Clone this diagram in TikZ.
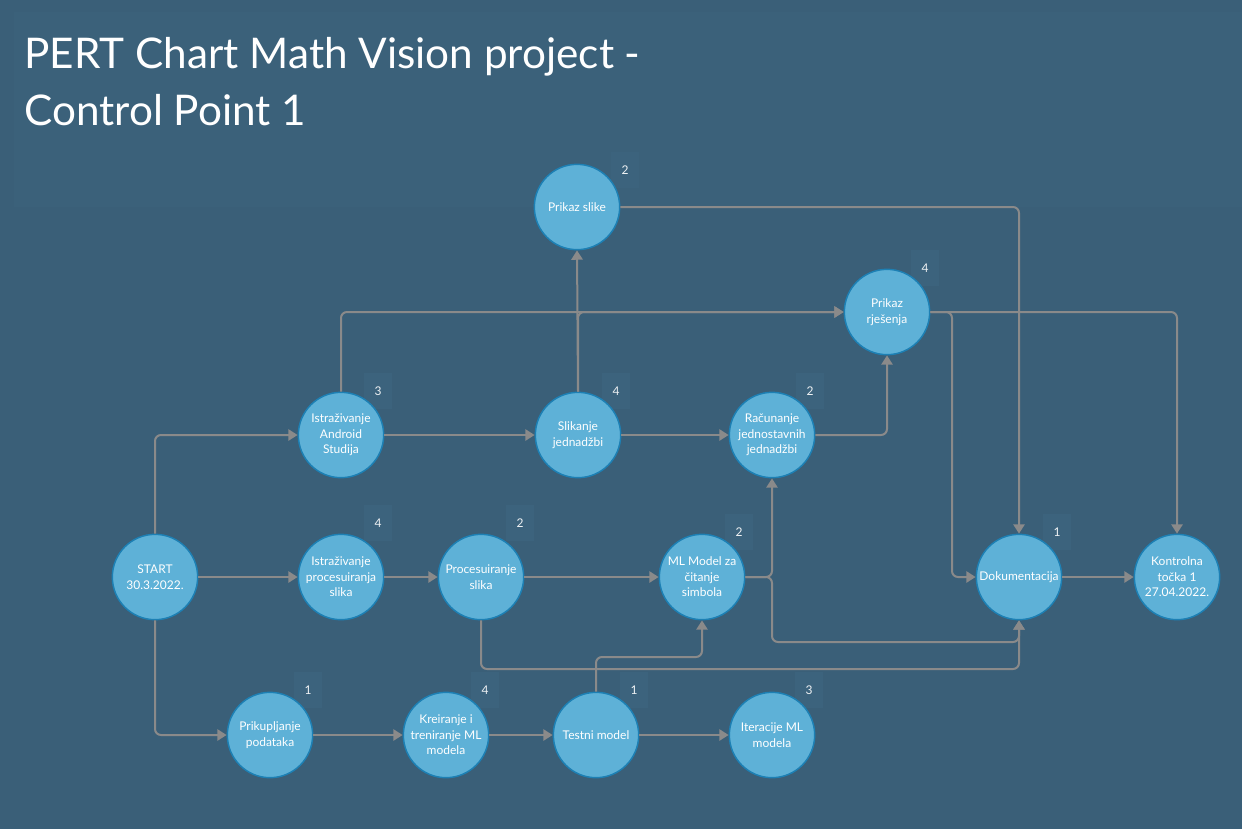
\documentclass[tikz,border=0pt]{standalone}
\usepackage{fontspec}
\setmainfont{Lato}
\usetikzlibrary{arrows.meta,calc}
\definecolor{bg}{HTML}{3A5F78}
\definecolor{panel}{HTML}{3B617A}
\definecolor{nodefill}{HTML}{5EB1D7}
\definecolor{nodeedge}{HTML}{1D80B4}
\definecolor{conn}{HTML}{8A8A8A}
\definecolor{numbox}{HTML}{3C637D}
\begin{document}
\begin{tikzpicture}[x=0.75pt,y=-0.75pt,
  task/.style={circle, fill=nodefill, draw=nodeedge, line width=1.1pt, minimum size=64pt, inner sep=0pt, text=white, align=center, font=\fontsize{9}{11.6}\selectfont},
  num/.style={fill=numbox, minimum width=21pt, minimum height=27pt, inner sep=0pt, text=white!92!bg, font=\fontsize{9}{10}\selectfont},
  arr/.style={draw=conn, line width=1.5pt, rounded corners=4.5pt, -{Triangle[length=7pt,width=8.5pt]}},
  title/.style={anchor=base west, inner sep=0pt, text=white, font=\fontsize{31.7}{38}\selectfont}
]
\useasboundingbox (0,0) rectangle (1242,829);
\fill[bg] (0,0) rectangle (1242,829);
\fill[panel] (14,12) rectangle (1242,207);

\node[title] (t1) at (24,68) {PERT Chart Math Vision project -};
\node[title] (t2) at (24,125) {Control Point 1};

% number boxes
\node[num] (n1) at (625,170) {2};
\node[num] (n2) at (925,268) {4};
\node[num] (n3) at (378,391) {3};
\node[num] (n4) at (616,391) {4};
\node[num] (n5) at (810,391) {2};
\node[num] (n6) at (378,523) {4};
\node[num] (n7) at (520,523) {2};
\node[num] (n8) at (739,532) {2};
\node[num] (n9) at (1057,532) {1};
\node[num] (n10) at (308,690) {1};
\node[num] (n11) at (485,690) {4};
\node[num] (n12) at (634,690) {1};
\node[num] (n13) at (809,690) {3};

% tasks
\node[task] (pslike) at (577,207) {Prikaz slike};
\node[task] (prj) at (887,312) {Prikaz\\rješenja};
\node[task] (android) at (341,435) {Istraživanje\\Android\\Studija};
\node[task] (slik) at (578,435) {Slikanje\\jednadžbi};
\node[task] (rac) at (772,435) {Računanje\\jednostavnih\\jednadžbi};
\node[task] (start) at (155,577) {START\\30.3.2022.};
\node[task] (iproc) at (341,577) {Istraživanje\\procesuiranja\\slika};
\node[task] (proc) at (481,577) {Procesuiranje\\slika};
\node[task] (ml) at (702,577) {ML Model za\\čitanje\\simbola};
\node[task] (dok) at (1019,577) {Dokumentacija};
\node[task] (kon) at (1177,577) {Kontrolna\\točka 1\\27.04.2022.};
\node[task] (prik) at (270,735) {Prikupljanje\\podataka};
\node[task] (krei) at (446,735) {Kreiranje i\\treniranje ML\\modela};
\node[task] (test) at (596,735) {Testni model};
\node[task] (iter) at (772,735) {Iteracije ML\\modela};

% helper levels
\coordinate (mdturn) at (772,642);
\coordinate (pdlevel) at (0,669);
\coordinate (tmlevel) at (0,657);
\coordinate (pdx) at (952,0);

% connectors
\draw[arr] (start.north) |- (android.west);
\draw[arr] (start.east) -- (iproc.west);
\draw[arr] (start.south) |- (prik.west);
\draw[arr] (android.east) -- (slik.west);
\draw[arr] (android.north) |- (prj.west);
\draw[arr] (slik.north) -- (pslike.south);
\draw[arr] (slik.north) |- (prj.west);
\draw[arr] (slik.east) -- (rac.west);
\draw[arr] (rac.east) -| (prj.south);
\draw[arr] (iproc.east) -- (proc.west);
\draw[arr] (proc.east) -- (ml.west);
\draw[arr] (ml.east) -| (rac.south);
\draw[arr] (ml.east) -| (mdturn) -| (dok.south);
\draw[arr] (proc.south) |- (dok.south |- pdlevel) -- (dok.south);
\draw[arr] (test.north) -- (test.north |- tmlevel) -| (ml.south);
\draw[arr] (prik.east) -- (krei.west);
\draw[arr] (krei.east) -- (test.west);
\draw[arr] (test.east) -- (iter.west);
\draw[arr] (pslike.east) -| (dok.north);
\draw[arr] (prj.east) -- (prj.east -| pdx) |- (dok.west);
\draw[arr] (prj.east) -| (kon.north);
\draw[arr] (dok.east) -- (kon.west);
\end{tikzpicture}
\end{document}
